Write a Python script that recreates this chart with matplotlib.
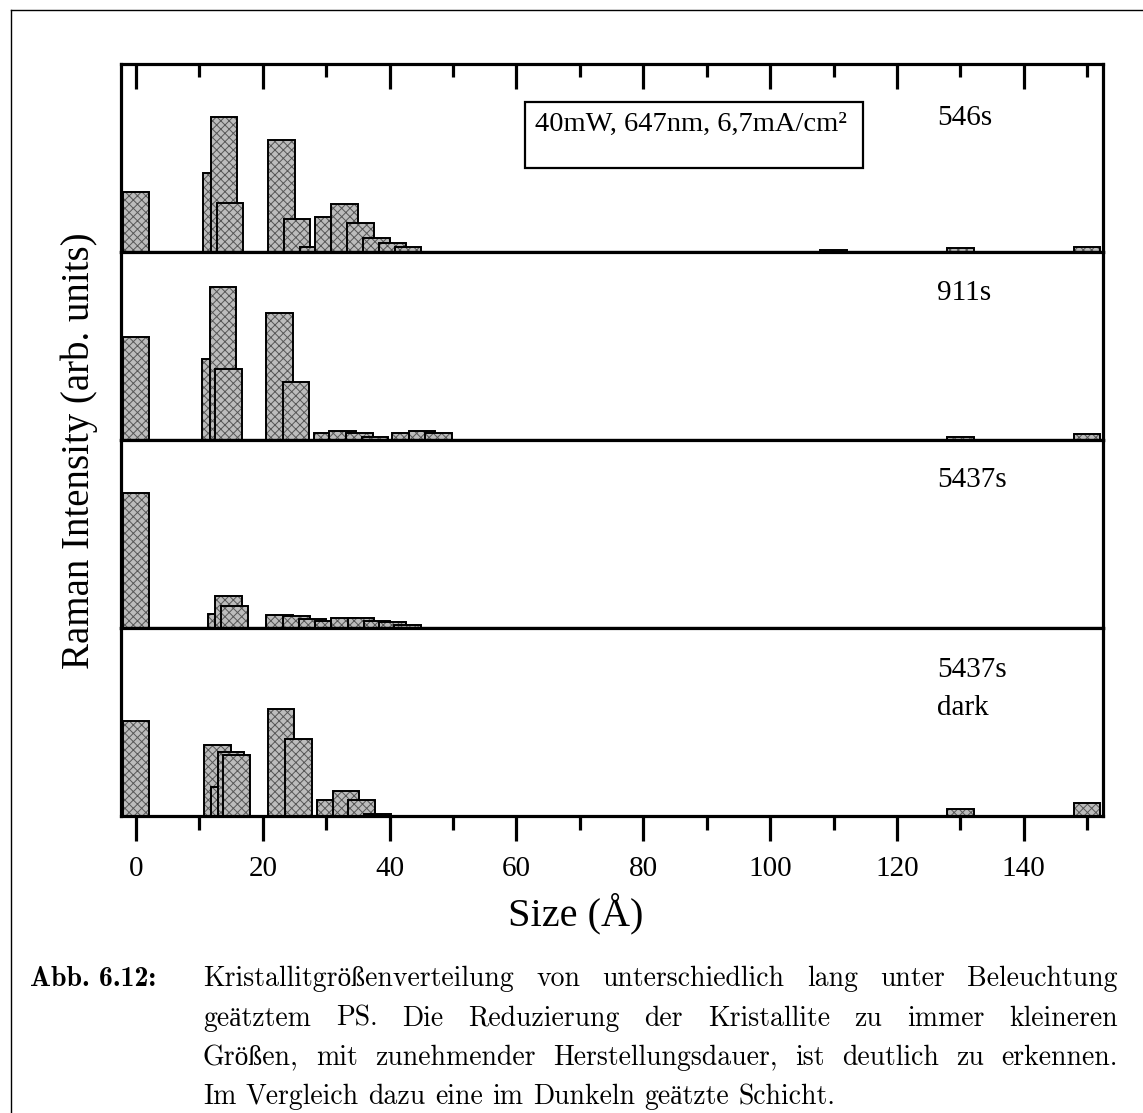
import matplotlib
matplotlib.use('Agg')
import matplotlib.pyplot as plt
from matplotlib.patches import Rectangle
from matplotlib.lines import Line2D

# Kristallitgrößen (Å) und Intensitäten (arb. units) je Probe
size_546 = [0, 12.7, 13.9, 14.8, 22.9, 25.4, 27.9, 30.4, 32.9, 35.4, 37.9, 40.4, 42.9, 110, 130, 150]
int_546 = [60, 79, 135, 49, 112, 33, 5, 35, 48, 29, 14, 9, 5, 2, 4, 5]

size_911 = [0, 12.5, 13.7, 14.6, 22.6, 25.2, 30.1, 32.6, 35.2, 37.7, 42.5, 45.1, 47.7, 130, 150]
int_911 = [103, 81, 153, 71, 127, 58, 7, 9, 7, 3, 7, 9, 7, 2.5, 6]

size_5437 = [0, 13.5, 14.6, 15.5, 22.6, 25.3, 27.8, 30.4, 32.9, 35.5, 38.0, 40.4, 42.8]
int_5437 = [135, 14, 32, 22, 13, 12, 9, 7, 10, 10, 7, 6, 3]

size_dark = [0, 12.85, 13.9, 14.95, 15.85, 22.85, 25.6, 30.6, 33.1, 35.6, 38.1, 130, 150]
int_dark = [95, 71, 29, 64, 61, 107, 77, 16, 25, 16, 2, 7, 13]

panel_sizes = [size_546, size_911, size_5437, size_dark]
panel_ints = [int_546, int_911, int_5437, int_dark]
panel_labels = [['546s'], ['911s'], ['5437s'], ['5437s', 'dark']]

box_text = '40mW, 647nm, 6,7mA/cm²'
xticks_major = [0, 20, 40, 60, 80, 100, 120, 140]
xticks_minor = [10, 30, 50, 70, 90, 110, 130, 150]

caption_head = 'Abb. 6.12:'
caption_lines = [
    'Kristallitgrößenverteilung von unterschiedlich lang unter Beleuchtung',
    'geätztem PS. Die Reduzierung der Kristallite zu immer kleineren',
    'Größen, mit zunehmender Herstellungsdauer, ist deutlich zu erkennen.',
    'Im Vergleich dazu eine im Dunkeln geätzte Schicht.',
]

W, H = 1143, 1113
plt.rcParams['font.family'] = ['Liberation Serif', 'DejaVu Serif']
plt.rcParams['hatch.linewidth'] = 0.7


def fx(px):
    return px / W


def fy(py):
    return 1 - py / H


fig = plt.figure(figsize=(W / 100, H / 100), dpi=100)

left_px, width_px = 120.5, 982.5
top_px, panel_h = 63.5, 188.1
xmin, xmax = -2.45, 152.5

axes = []
for i in range(4):
    y_top = top_px + i * panel_h
    ax = fig.add_axes([fx(left_px), fy(y_top + panel_h), width_px / W, panel_h / H])
    # jede Säule: Rasterfüllung + schwarzer Rand, spätere liegen vorne
    for k, (s, h) in enumerate(zip(panel_sizes[i], panel_ints[i])):
        ax.bar([s], [h], width=4.2, color='#bcbcbc', hatch='xxxx',
               edgecolor='#575757', linewidth=0, zorder=1 + 0.02 * k)
        ax.bar([s], [h], width=4.2, fill=False, edgecolor='black',
               linewidth=1.4, zorder=1.01 + 0.02 * k)
    ax.set_xlim(xmin, xmax)
    ax.set_ylim(0, panel_h)
    ax.set_yticks([])
    for sp in ax.spines.values():
        sp.set_linewidth(2.3)
    ax.set_xticks(xticks_major)
    ax.set_xticks(xticks_minor, minor=True)
    if i == 0:
        ax.xaxis.set_ticks_position('top')
        ax.tick_params(axis='x', which='both', direction='in', labeltop=False,
                       labelbottom=False, width=2.3)
        ax.tick_params(axis='x', which='major', length=18)
        ax.tick_params(axis='x', which='minor', length=9.5)
    elif i == 3:
        ax.xaxis.set_ticks_position('bottom')
        ax.tick_params(axis='x', which='both', direction='out', width=2.3)
        ax.tick_params(axis='x', which='major', length=18, labelsize=21, pad=11)
        ax.tick_params(axis='x', which='minor', length=10)
    else:
        ax.tick_params(axis='x', which='both', length=0, labelbottom=False)
    axes.append(ax)

# Probenbezeichnungen
label_y = [[127], [140], [141], [139, 101]]
for ax, labs, ys in zip(axes, panel_labels, label_y):
    for lab, yy in zip(labs, ys):
        ax.text(126.3, yy, lab, fontsize=21, va='baseline', ha='left')

# Kasten mit Parametern
axes[0].add_patch(Rectangle((61.4, 84), 53.3, 66, fill=False, edgecolor='black',
                            linewidth=1.6, zorder=5))
axes[0].text(62.9, 120.5, box_text, fontsize=20.5, va='baseline', ha='left')

fig.text(fx(576), fy(925), 'Size (Å)', fontsize=29, ha='center', va='baseline')
fig.text(fx(89), fy(451), 'Raman Intensity (arb. units)', fontsize=28, rotation=90,
         rotation_mode='anchor', ha='center', va='baseline')

# Seitenrahmen
fig.add_artist(Line2D([fx(11), fx(11)], [fy(9.5), 0], color='black', lw=1.0))
fig.add_artist(Line2D([fx(11), 1], [fy(9.5), fy(9.5)], color='black', lw=1.0))

# Bildunterschrift (Blocksatz)
cap_font = ['cmr10', 'Liberation Serif']
renderer = fig.canvas.get_renderer()
fig.text(fx(30), fy(986), caption_head, fontsize=20, family=['cmb10', 'Liberation Serif'],
         va='baseline')
x0, x1 = 203, 1118
baselines = [986, 1025.5, 1065, 1104.5]
for n, (line, base) in enumerate(zip(caption_lines, baselines)):
    words = line.split(' ')
    texts = [fig.text(0, fy(base), w, fontsize=20, family=cap_font, va='baseline')
             for w in words]
    widths = [t.get_window_extent(renderer).width for t in texts]
    if n < len(caption_lines) - 1:
        gap = (x1 - x0 - sum(widths)) / (len(words) - 1)
    else:
        gap = 9.5
    x = x0
    for t, w in zip(texts, widths):
        t.set_x(fx(x))
        x += w + gap

fig.savefig('out.png', dpi=100)
